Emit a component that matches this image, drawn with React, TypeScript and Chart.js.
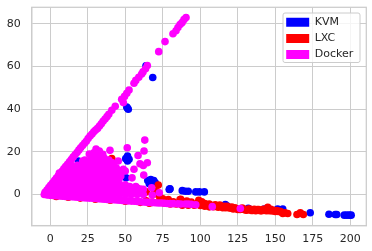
import React, { useEffect, useRef } from "react";
import { Chart, registerables } from "chart.js";

Chart.register(...registerables);

type P = [number, number];

const seriesNames = ["KVM", "LXC", "Docker"];
const xTickStep = 25;
const yTickStep = 20;

const kvmPoints: P[] = [
  [18.7, 15.7], [63.8, 60.4], [68.3, 54.9], [51, 41], [52, 40], [51.5, 40.4],
  [50.3, 16.8], [52.5, 16.5], [51.5, 18], [51.5, 15.7], [50.5, 7.8],
  [65, 6.5], [67, 7], [69, 6.5], [70, 5.5], [66, 5], [68, 5],
  [79.3, 2.3], [79.8, 2.7], [79.6, 2.5], [88, 1.8], [90, 1.5], [92, 1.5],
  [97, 1.2], [99.4, 1.2], [102.7, 1.2],
  [106.5, -5.5], [113.8, -5.5], [116.7, -4.7], [118, -5.4], [132, -6.5],
  [142.7, -6.8], [145, -6.6], [151.6, -6.8], [155, -6.8],
  [173.3, -8.6], [185.8, -9.3], [190, -9.4], [191, -9.4],
  [196, -9.7], [197.7, -9.7], [199.3, -9.7], [200.6, -9.7],
];

const lxcPoints: P[] = [
  [4, -0.9], [12, -1.3], [20, -1.7], [30, -2.2], [40, -2.7], [50, -3.2], [60, -3.7], [66, -4.1],
  [41, 16.9], [57.6, 3.1], [59, 1.5], [64, 1.2], [68.6, 0], [72, 4.4], [73, -1.1], [70, 1.5],
  [75, -2], [78.7, -2.4], [82, -3.4], [86.5, -2.4], [87, -2.3], [91, -3.1], [94, -3.5],
  [64, -3], [68, -3.5], [72, -3.5], [76, -4], [80, -4.5], [84, -4.5], [88, -5], [92, -5], [96, -5],
  [99, -2.7], [100, -5.2], [101, -3.4], [98, -4.2], [103, -4.2], [103, -5.5], [105, -5.2], [106, -5.8],
  [106, -4.5], [108, -5.2], [109, -5.7], [110, -4.8], [111, -5.6], [112, -6], [113, -5], [114, -5.6],
  [115, -6.2], [116, -5.5], [117, -6.2], [118, -5.5], [119, -6.2], [120, -6.4], [121, -5.9], [122, -6.8],
  [123, -6.3], [124, -6.6], [125, -7], [126.5, -7], [128, -6.4], [129, -6.9], [130, -7.3], [131, -7.4],
  [132, -6.8], [133, -6.8], [134, -7.5], [135, -7.5], [136, -7], [137, -7.6], [138, -7.1], [139, -7.1],
  [140, -7.6], [141, -7.6], [142, -7], [143, -7.2], [144, -7.6], [145, -6], [146, -7.6], [147, -7],
  [148, -7.7], [149, -7.4], [150, -8], [151, -7.5], [152, -8], [153, -7.9], [154, -8.2], [155, -8.9],
  [156.5, -8.6], [158.3, -8.9], [164.5, -9.4], [166.7, -8.6], [168.7, -9.4],
];

const dockerRidge: P[] = [
  [-3.5, 1], [-2.2, 2.1], [-1, 3.2], [0.2, 4.3], [1.5, 5.4], [2.8, 6.5], [4, 7.6], [5.2, 8.7], [6.5, 9.8],
  [7.8, 10.9], [9, 12], [10.2, 13.1], [11.5, 14.2], [12.8, 15.3], [14, 16.4], [15.2, 17.5], [16.5, 18.6],
  [17.8, 19.7], [19, 20.8], [20.2, 21.9], [21.5, 23], [22.8, 24], [24, 25], [25.2, 26.2], [26.5, 27.4],
  [27.8, 28.4], [29, 29.4], [30.2, 30.2], [31.5, 31], [32.8, 32.1], [34, 33.2], [35.2, 34.3], [36.5, 35.4],
  [37.8, 36.5], [39, 37.6], [41, 39.5], [43.3, 41.4], [47.6, 44.7], [48.7, 43.1],
  [49.5, 46], [51, 47.5], [52.5, 49], [55.8, 52.2], [57, 53.5], [59, 55], [60.9, 56.5],
  [61.8, 57.5], [63.5, 59], [64.7, 60.5], [72.3, 67], [76.5, 71.7], [81.8, 75.4], [83.8, 76.8],
  [85.1, 78.3], [86.5, 79.7], [87.8, 80.6], [89.1, 82], [90.5, 83],
];

const dockerLowerEdge: P[] = [
  [-4, 0], [-2, -0.2], [0, -0.4], [2, -0.5], [4, -0.6], [6, -0.7], [8, -0.8], [10, -0.9], [12, -1], [14, -1.1],
  [16, -1.2], [18, -1.3], [20, -1.4], [22, -1.5], [24, -1.6], [26, -1.7], [28, -1.8], [30, -1.9], [32, -2],
  [34, -2.1], [36, -2.2], [38, -2.3], [40, -2.4], [42, -2.5], [44, -2.6], [46, -2.7], [48, -2.8], [50, -2.9],
  [52, -3], [54, -3.1], [56, -3.2], [58, -3.3], [60, -3.4], [62, -3.5], [64, -3.6], [66, -3.7], [68, -3.8],
  [70, -3.9], [72, -4], [74, -4], [76, -4.1], [78, -4.2], [80, -4.3], [82, -4.3], [85, -4.4], [87, -4.5],
  [90, -4.5], [92, -4.5], [94, -4.6], [97, -4.8], [108, -5.7], [126.7, -6.6],
];

const dockerMass: P[] = [
  [-2, 0], [2, 0], [6, 0], [10, 0], [14, 0], [18, 0], [22, 0], [26, 0], [30, 0], [34, 0], [38, 0],
  [42, 0], [46, 0], [50, 0], [54, 0], [58, 0], [62, 0],
  [-1, 1.2], [3, 1.2], [7, 1.2], [11, 1.2], [15, 1.2], [19, 1.2], [23, 1.2], [27, 1.2], [31, 1.2], [35, 1.2],
  [39, 1.2], [43, 1.2], [47, 1.2], [51, 1.2], [55, 1.2], [59, 1.2],
  [0, 2.5], [4, 2.5], [8, 2.5], [12, 2.5], [16, 2.5], [20, 2.5], [24, 2.5], [28, 2.5], [32, 2.5],
  [36, 2.5], [40, 2.5], [44, 2.5], [48, 2.5], [52, 2.5], [56, 2.5], [60, 2.5],
  [1, 3.7], [5, 3.7], [9, 3.7], [13, 3.7], [17, 3.7], [21, 3.7], [25, 3.7], [29, 3.7], [33, 3.7], [37, 3.7],
  [41, 3.7], [45, 3.7], [49, 3.7], [53, 3.7], [57, 3.7],
  [2, 5], [6, 5], [10, 5], [14, 5], [18, 5], [22, 5], [26, 5], [30, 5], [34, 5], [38, 5], [42, 5],
  [46, 5], [50, 4.5],
  [5, 6.2], [9, 6.2], [13, 6.2], [17, 6.2], [21, 6.2], [25, 6.2], [29, 6.2], [33, 6.2], [37, 6.2], [41, 6.2], [45, 6.2],
  [4, 7.5], [8, 7.5], [12, 7.5], [16, 7.5], [20, 7.5], [24, 7.5], [28, 7.5], [32, 7.5], [36, 7.5],
  [40, 7.5], [44, 7.5], [46, 7.5],
  [7, 8.7], [11, 8.7], [15, 8.7], [19, 8.7], [23, 8.7], [27, 8.7], [31, 8.7], [35, 8.7], [39, 8.7], [43, 8.7], [47, 8.7],
  [6, 10], [10, 10], [14, 10], [18, 10], [22, 10], [26, 10], [30, 10], [34, 10], [38, 10], [42, 10],
  [46, 10], [50, 11],
  [9, 11.2], [13, 11.2], [17, 11.2], [21, 11.2], [25, 11.2], [29, 11.2], [33, 11.2], [37, 11.2], [41, 11.2], [45, 11.2], [48.7, 11.8],
  [12, 12.5], [16, 12.5], [20, 12.5], [24, 12.5], [28, 12.5], [32, 12.5], [36, 12.5], [40, 12.5], [44, 12.5],
  [14, 13.7], [18, 13.7], [22, 13.7], [26, 13.7], [30, 13.7], [34, 13.7], [38, 13.7], [42, 13.7],
  [21.6, 15.7], [25, 15], [29, 15], [33, 15], [37, 15], [41, 15], [45.3, 15.7],
  [23, 16.2], [27, 16.2], [31, 16.2], [35, 16.2], [39, 16.2],
  [26, 19], [28, 17.5], [32, 17.5], [36, 17], [30.5, 21.3], [32.7, 20.4], [35, 18.8], [29, 19.5], [31, 19], [33, 18.5],
];

const dockerOutliers: P[] = [
  [39.8, 20.7], [51.3, 21.9], [63, 25.5], [62.5, 20.4], [58.5, 18.3], [59.8, 14.4], [62, 13.6],
  [64.7, 14.9], [55.8, 11.8], [54.5, 7.8], [62.3, 9.1], [67.6, 3.1], [62, 2.4], [58.5, 2.5],
  [68, -0.3], [72.7, 0.8],
];

const dockerPoints: P[] = [...dockerRidge, ...dockerLowerEdge, ...dockerMass, ...dockerOutliers];

const toXY = (pts: P[]) => pts.map(([x, y]) => ({ x, y }));

const FONT = "'DejaVu Sans'";
const TEXT = "#262626";
const GRID = "#cccccc";
const R = 3.8;

const frame = {
  id: "frame",
  beforeDatasetsDraw(chart: any) {
    const { left, top, right, bottom } = chart.chartArea;
    const c = chart.ctx;
    c.save();
    c.strokeStyle = GRID;
    c.lineWidth = 1.25;
    c.strokeRect(left, top, right - left, bottom - top);
    c.restore();
  },
};

const legendPlacement = {
  id: "legendPlacement",
  afterLayout(chart: any) {
    const l = chart.legend;
    if (!l) return;
    l.left = 281;
    l.right = l.left + l.width;
    l.top = 11.5;
    l.bottom = l.top + l.height;
    if (!l.__framed) {
      l.__framed = true;
      const original = l.draw.bind(l);
      l.draw = () => {
        const c = chart.ctx;
        c.save();
        c.beginPath();
        c.roundRect(283, 13, 77, 49.5, 2);
        c.fillStyle = "rgba(255,255,255,0.8)";
        c.fill();
        c.strokeStyle = GRID;
        c.lineWidth = 1;
        c.stroke();
        c.restore();
        original();
      };
    }
  },
};

export default function App() {
  const ref = useRef<HTMLCanvasElement>(null);
  useEffect(() => {
    document.body.style.margin = "0";
    const chart = new Chart(ref.current!, {
      type: "scatter",
      data: {
        datasets: [
          { label: seriesNames[0], data: toXY(kvmPoints), backgroundColor: "#0000ff", borderColor: "#0000ff", pointRadius: R, pointBorderWidth: 0, order: 3 },
          { label: seriesNames[1], data: toXY(lxcPoints), backgroundColor: "#ff0000", borderColor: "#ff0000", pointRadius: R, pointBorderWidth: 0, order: 2 },
          { label: seriesNames[2], data: toXY(dockerPoints), backgroundColor: "#ff00ff", borderColor: "#ff00ff", pointRadius: R, pointBorderWidth: 0, order: 1 },
        ],
      },
      options: {
        responsive: false,
        animation: false,
        layout: { padding: { top: 7.3, right: 5.7, left: 0, bottom: 0 } },
        plugins: {
          tooltip: { enabled: false },
          legend: {
            position: "chartArea" as any,
            align: "start",
            labels: {
              boxWidth: 23,
              boxHeight: 9,
              padding: 5.2,
              color: TEXT,
              font: { family: FONT, size: 11 },
              sort: (a: any, b: any) => a.datasetIndex - b.datasetIndex,
            },
          },
        },
        scales: {
          x: {
            type: "linear",
            min: -12.4,
            max: 210.7,
            afterFit: (s: any) => { s.height = 25.4; s.paddingLeft = 0; s.paddingRight = 0; s.paddingTop = 0; s.paddingBottom = 0; },
            grid: { color: GRID, lineWidth: 1, drawTicks: false },
            border: { color: GRID, width: 1.25 },
            ticks: { stepSize: xTickStep, includeBounds: false, maxRotation: 0, autoSkip: false, color: TEXT, padding: 6.5, font: { family: FONT, size: 11 } },
          },
          y: {
            type: "linear",
            min: -14.6,
            max: 87.8,
            afterFit: (s: any) => { s.width = 31.7; s.paddingLeft = 0; s.paddingRight = 0; s.paddingTop = 0; s.paddingBottom = 0; },
            grid: { color: GRID, lineWidth: 1, drawTicks: false },
            border: { color: GRID, width: 1.25 },
            ticks: { stepSize: yTickStep, includeBounds: false, autoSkip: false, color: TEXT, padding: 11, font: { family: FONT, size: 11 } },
          },
        },
      },
      plugins: [legendPlacement, frame],
    } as any);
    return () => chart.destroy();
  }, []);
  return <canvas ref={ref} width={372} height={251} style={{ display: "block" }} />;
}
